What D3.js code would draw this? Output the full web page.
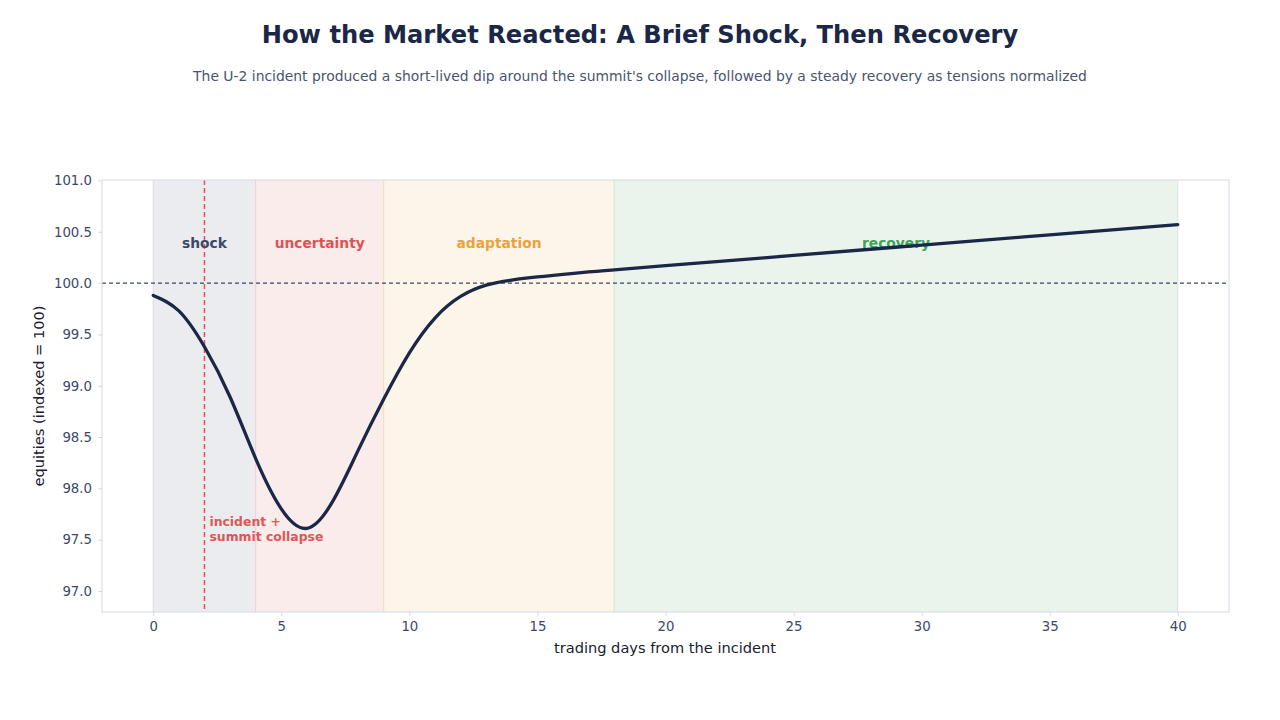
<!DOCTYPE html>
<html><head><meta charset="utf-8">
<script src="https://cdn.jsdelivr.net/npm/d3@7"></script>
<style>body{margin:0;background:#fff;} text{font-family:"DejaVu Sans",sans-serif;}</style>
</head><body>
<svg id="c" width="1280" height="720"></svg>
<script>
const days = [0,1,2,3,4,5,6,7,8,9,10,11,12,13,14,15,16,17,18,20,25,30,35,40];
const equity = [99.88,99.73,99.38,98.89,98.29,97.80,97.61,97.87,98.37,98.87,99.32,99.66,99.87,99.98,100.03,100.06,100.085,100.11,100.13,100.17,100.27,100.37,100.47,100.57];
const phaseNames = ["shock","uncertainty","adaptation","recovery"];
const phaseStart = [0,4,9,18];
const phaseEnd = [4,9,18,40];
const phaseFill = ["#ebecef","#fbecec","#fcf5ea","#eaf4ec"];
const phaseEdge = ["#d9dbe2","#f3d2d2","#f5dfc3","#d6e8d9"];
const phaseText = ["#3d4868","#e05252","#eba23b","#3aa65a"];
const xTicks = [0,5,10,15,20,25,30,35,40];
const yTicks = [97.0,97.5,98.0,98.5,99.0,99.5,100.0,100.5,101.0];
const eventDay = 2;
const eventLabel = ["incident +","summit collapse"];

const svg = d3.select("#c");
const L=102,R=1229,T=180,B=612;
const x = d3.scaleLinear().domain([-2,42]).range([L,R]);
const y = d3.scaleLinear().domain([96.795,101.005]).range([B,T]);

svg.append("text").attr("x",640).attr("y",43).attr("text-anchor","middle")
  .attr("font-size",24.2).attr("font-weight","bold").attr("fill","#1b2747")
  .text("How the Market Reacted: A Brief Shock, Then Recovery");
svg.append("text").attr("x",640).attr("y",81).attr("text-anchor","middle")
  .attr("font-size",13.9).attr("fill","#4a5470")
  .text("The U-2 incident produced a short-lived dip around the summit's collapse, followed by a steady recovery as tensions normalized");

const g = svg.append("g");
phaseNames.forEach((n,i)=>{
  g.append("rect").attr("x",x(phaseStart[i])).attr("y",T)
   .attr("width",x(phaseEnd[i])-x(phaseStart[i])).attr("height",B-T)
   .attr("fill",phaseFill[i]);
  [phaseStart[i],phaseEnd[i]].forEach(v=>{
    g.append("line").attr("x1",x(v)).attr("x2",x(v)).attr("y1",T).attr("y2",B)
     .attr("stroke",phaseEdge[i]).attr("stroke-width",1);
  });
});

g.append("line").attr("x1",L).attr("x2",R).attr("y1",y(100)).attr("y2",y(100))
 .attr("stroke","#3c4660").attr("stroke-width",1.1).attr("stroke-dasharray","4,3");

g.append("line").attr("x1",x(eventDay)).attr("x2",x(eventDay)).attr("y1",T).attr("y2",B)
 .attr("stroke","#de5656").attr("stroke-width",1.5).attr("stroke-dasharray","5,3");

phaseNames.forEach((n,i)=>{
  g.append("text").attr("x",x((phaseStart[i]+phaseEnd[i])/2)).attr("y",248)
   .attr("text-anchor","middle").attr("font-size",13.8).attr("font-weight","bold")
   .attr("fill",phaseText[i]).text(n);
});

const line = d3.line().x((d,i)=>x(days[i])).y(d=>y(d)).curve(d3.curveNatural);
g.append("path").attr("d",line(equity)).attr("fill","none")
 .attr("stroke","#1b2747").attr("stroke-width",3.3).attr("stroke-linecap","round");

eventLabel.forEach((t,i)=>{
  g.append("text").attr("x",x(eventDay)+5).attr("y",526+i*15)
   .attr("font-size",12.4).attr("font-weight","bold").attr("fill","#de5656").text(t);
});

// frame
svg.append("rect").attr("x",L).attr("y",T).attr("width",R-L).attr("height",B-T)
 .attr("fill","none").attr("stroke","#d5d9e8").attr("stroke-width",1);

const xa = svg.append("g").attr("transform",`translate(0,${B})`)
 .call(d3.axisBottom(x).tickValues(xTicks).tickSize(4).tickPadding(6).tickFormat(d3.format("d")));
const ya = svg.append("g").attr("transform",`translate(${L},0)`)
 .call(d3.axisLeft(y).tickValues(yTicks).tickSize(4).tickPadding(6).tickFormat(d3.format(".1f")));
[xa,ya].forEach(a=>{
  a.select(".domain").remove();
  a.selectAll("line").attr("stroke","#d5d9e8");
  a.selectAll("text").attr("fill","#3d4868").attr("font-size",13.3).attr("font-family","DejaVu Sans");
});

svg.append("text").attr("x",665).attr("y",653).attr("text-anchor","middle")
 .attr("font-size",14.6).attr("fill","#1b2030").text("trading days from the incident");
svg.append("text").attr("transform","translate(44,396) rotate(-90)").attr("text-anchor","middle")
 .attr("font-size",14.6).attr("fill","#1b2030").text("equities (indexed = 100)");
</script>
</body></html>
